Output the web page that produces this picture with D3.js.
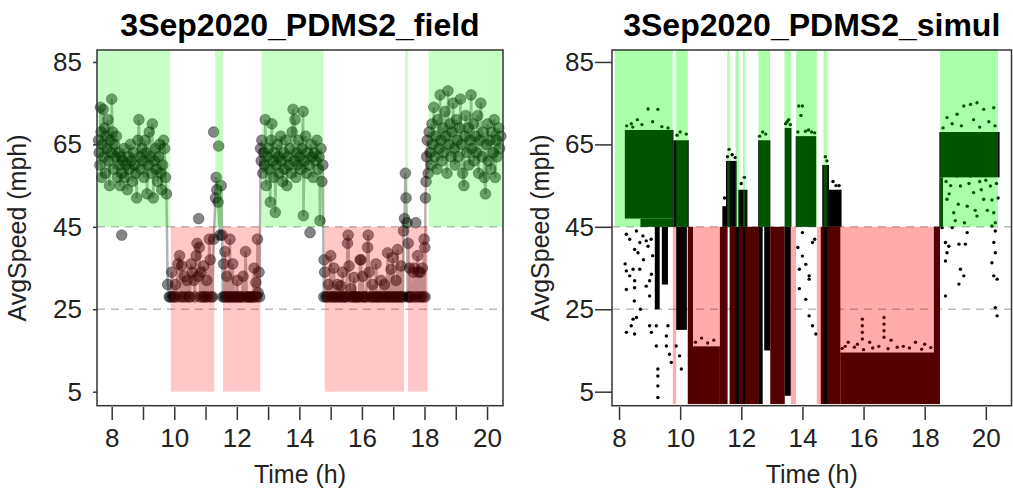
<!DOCTYPE html>
<html>
<head>
<meta charset="utf-8">
<script src="https://cdn.jsdelivr.net/npm/d3@7"></script>
<style>
  body { margin: 0; background: #fff; }
  svg { font-family: "Liberation Sans", Arial, sans-serif; }
</style>
</head>
<body>
<div id="chart"></div>
<script>
// ---- data ----
// field panel: [time (h), avg speed (mph)]
fieldPoints = [
  [7.58,66],[7.60,63],[7.62,60],[7.64,74],[7.66,68],[7.68,57],[7.70,65],[7.73,73.5],[7.75,62],[7.78,69],
  [7.80,58],[7.83,67],[7.85,64],[7.88,71],[7.90,61],[7.93,55],[7.95,66],[7.98,63],[8.00,76],[8.03,68],
  [8.06,59],[8.09,65],[8.12,62],[8.15,67],[8.18,57],[8.21,63],[8.24,60],[8.27,55],[8.30,62],
  [8.33,58],[8.36,61],[8.40,64],[8.43,57],[8.46,60],[8.50,54],[8.53,62],[8.56,59],[8.60,65],[8.63,61],
  [8.66,56],[8.70,63],[8.73,60],[8.77,58],[8.80,52],[8.84,66],[8.87,71],[8.90,62],[8.93,59],[8.97,64],
  [9.00,61],[9.03,57],[9.07,66],[9.10,63],[9.13,53],[9.17,60],[9.20,68],[9.23,62],[9.27,58],[9.30,70],
  [9.33,52],[9.36,61],[9.40,64],[9.43,59],[9.47,56],[9.50,62],[9.53,65],[9.57,58],[9.60,54],[9.63,60],
  [9.66,66],[9.69,64],[9.72,57],[9.75,53],[9.79,31],[9.84,28],
  [9.88,28],[9.92,34],[9.96,28],[10.00,28],[10.04,31],[10.08,28],[10.12,36],[10.17,38],[10.20,28],[10.24,35.5],
  [10.28,28],[10.32,33],[10.36,28],[10.41,32],[10.46,28],[10.50,28],[10.54,36],[10.57,34],[10.62,32],[10.66,28],
  [10.70,38],[10.73,41],[10.76,33],[10.80,40],[10.83,28],[10.87,34],[10.90,28],[10.94,35.5],[10.97,28],
  [11.00,28],[11.04,32],[11.08,28],[11.12,42],[11.15,37],[11.18,28],[11.22,28],[11.26,42],[11.32,52],
  [11.34,57],[11.36,54],[11.40,51],[11.46,43],[11.50,55],[11.53,43],
  [11.55,28],[11.58,36],[11.60,28],[11.62,39],[11.65,28],[11.68,33],[11.71,28],[11.74,28],[11.78,42],[11.80,28],
  [11.83,28],[11.87,36],[11.90,28],[11.93,28],[11.97,28],[12.01,32],[12.04,28],[12.08,28],[12.12,28],[12.16,28],
  [12.20,33],[12.24,28],[12.28,39],[12.32,28],[12.36,28],[12.40,28],[12.44,28],[12.48,28],[12.52,28],[12.55,35],
  [12.58,28],[12.61,31.5],[12.64,28],[12.66,42],[12.68,29],[12.71,34],[12.73,28],[12.76,64],[12.78,61],
  [12.80,66],[12.83,58],[12.86,63],[12.89,60],[12.91,71],[12.94,55],[12.97,62],[13.00,64],[13.03,59],[13.07,51],
  [13.10,66],[13.12,70],[13.15,61],[13.18,57],[13.21,63],[13.23,48.5],[13.26,60],[13.30,65],[13.33,62],[13.36,58],
  [13.40,67],[13.43,61],[13.46,56],[13.50,63],[13.53,59],[13.57,66],[13.60,55],[13.63,62],[13.67,60],[13.70,64],
  [13.73,58],[13.77,68],[13.80,73.5],[13.83,61],[13.86,71],[13.89,57],[13.92,63],[13.95,60],[13.98,66],[14.01,62],
  [14.04,59],[14.08,64],[14.12,73],[14.13,47.7],[14.16,61],[14.20,67],[14.23,58],[14.26,63],[14.30,60],
  [14.37,65],[14.40,62],[14.44,57],[14.48,63],[14.52,61],[14.56,66],[14.60,59],[14.63,62],[14.66,46.5],[14.69,64],
  [14.72,56],[14.75,60],
  [14.78,28],[14.79,37],[14.81,34],[14.85,28],[14.89,28],[14.93,31],[14.97,28],[15.00,38],[15.04,28],[15.08,28],
  [15.10,35],[15.14,28],[15.18,28],[15.22,31],[15.26,28],[15.30,28],[15.32,30.7],[15.36,28],[15.38,34],[15.42,28],
  [15.46,28],[15.50,28],[15.54,41],[15.56,43],[15.59,35.5],[15.62,28],[15.65,30],[15.69,28],[15.73,28],[15.75,32.7],
  [15.79,28],[15.83,28],[15.87,28],[15.91,28],[15.94,37],[15.97,37],[16.00,28],[16.02,33],[16.06,28],[16.10,28],
  [16.14,28],[16.18,40],[16.20,43],[16.23,34],[16.27,28],[16.31,28],[16.34,31],[16.38,28],[16.42,28],[16.45,36],
  [16.49,28],[16.53,28],[16.57,28],[16.61,32],[16.65,28],[16.69,28],[16.72,31],[16.76,28],[16.80,28],[16.82,38.7],
  [16.86,28],[16.90,28],[16.93,34.7],[16.97,28],[16.99,37.5],[17.03,28],[17.06,28],[17.09,32],[17.12,28],[17.14,39.5],
  [17.18,28],[17.22,28],[17.25,35.5],[17.28,28],[17.31,28],[17.33,44],[17.36,47],[17.39,58],[17.41,52],[17.44,46],
  [17.46,28],[17.48,41],[17.50,28],[17.52,35],[17.56,28],[17.60,28],[17.64,34],[17.67,35],[17.70,28],
  [17.75,28],[17.78,38],[17.81,34],[17.84,28],[17.87,34],[17.90,28],[17.93,35],[17.96,28],[17.99,42],[18.01,40],
  [18.02,28],[18.03,52],[18.05,56],[18.07,62],[18.09,66],
  [18.12,58],[18.15,68],[18.18,63],[18.21,60],[18.24,70],[18.27,65],[18.30,74],[18.33,62],[18.36,67],[18.40,59],
  [18.43,71],[18.46,64],[18.50,77],[18.53,66],[18.56,61],[18.59,69],[18.62,63],[18.66,73],[18.69,67],[18.72,58],
  [18.75,78],[18.78,65],[18.82,70],[18.85,62],[18.88,68],[18.92,75],[18.95,64],[18.98,60],[19.02,71],[19.05,66],
  [19.08,62],[19.12,69],[19.15,76],[19.18,65],[19.22,58],[19.26,55],[19.29,67],[19.32,72],[19.36,63],[19.39,69],
  [19.42,60],[19.46,66],[19.49,77],[19.52,64],[19.56,70],[19.59,61],[19.63,67],[19.66,63],[19.70,72],[19.73,58],
  [19.77,66],[19.80,75],[19.84,62],[19.87,68],[19.91,57],[19.95,53],[19.98,65],[20.02,70],[20.05,61],[20.09,66],
  [20.12,59],[20.16,68],[20.19,63],[20.23,71],[20.26,57],[20.30,66],[20.33,62],[20.37,69],[20.40,64],[20.44,67]
]
// isolated field readings that the trace line does not visibly reach
fieldStray = [[8.32,43],[10.78,47],[11.26,68],[11.42,64.6],[14.34,43.6],[17.72,46]]
// time spans of the green (>45) and red (<45) regimes
fieldGreen = [[7.53,9.87],[11.31,11.56],[12.79,14.77],[17.38,17.47],[18.13,20.51]]
fieldRed = [[9.89,11.28],[11.56,12.75],[14.81,17.35],[17.47,18.10]]

// simulation panel: dense point clouds as [t0, t1, low, high]
simBlocks = [
  [8.19,9.78,47,68.5],[8.70,9.78,45,47],[9.78,10.28,45,66],
  [9.17,9.33,25,45],[9.40,9.60,31,45],[9.87,10.22,20,45],
  [10.25,10.42,2,45],[10.42,11.30,2,16],[11.30,11.55,2,45],[11.38,11.50,45,50],
  [11.50,11.85,45,61],[11.90,12.20,45,54],[11.62,12.55,2,45],
  [12.55,12.95,45,66],[12.55,12.70,2,45],[12.75,12.95,15,45],[12.95,13.42,2,45],
  [13.42,13.64,45,69],[13.42,13.62,4,45],[13.78,14.45,45,67],
  [14.60,15.24,2,45],[14.65,14.87,45,60],[14.87,15.28,45,54],
  [15.24,18.35,2,14.5],[18.30,18.50,2,45],[18.48,20.45,57,68],[18.48,18.60,45,57]
]
// scattered single points outside the clouds
simPoints = [
  [8.24,43.2],[8.35,42.0],[8.57,44.0],[8.68,41.2],[8.62,38.7],[8.51,39.5],[8.78,42.8],[8.95,40.3],[8.89,41.6],[8.46,34.7],
  [8.24,34.3],[8.35,33.1],[8.51,31.9],[8.68,34.7],[9.06,33.5],[9.00,31.9],[9.00,28.2],[8.89,30.6],[8.24,29.8],[8.51,30.2],
  [8.57,23.0],[8.46,22.6],[8.40,21.0],[8.24,19.4],[8.51,19.0],[9.00,21.0],[9.06,19.4],[9.22,21.0],[9.22,16.1],[9.27,10.5],
  [9.27,8.8],[9.27,6.4],[9.27,3.6],[9.55,18.5],[9.55,16.1],[9.60,21.0],[9.65,14.1],[9.71,12.1],[9.87,16.1],[9.98,13.7],
  [10.04,10.5],[8.50,27],[8.70,25],[8.20,36],[8.80,37],[9.10,38],[9.05,42],
  [8.60,71],[8.95,73.6],[9.27,73.5],[8.40,70],[9.10,70.5],[10.00,68],[10.20,67.5],[11.45,52],[11.60,63.8],[11.70,62.5],
  [12.00,55.5],[12.10,57],[12.70,68],[12.80,67.5],[13.50,70.5],[13.55,71],[13.88,74.3],[14.00,74.3],[13.95,72],[14.20,68.5],
  [14.30,68],[14.75,62],[14.80,61],[15.00,56],[15.20,55],
  [8.25,69.5],[8.45,69.2],[8.75,69.8],[9.40,69.3],[9.60,69],[9.90,67.2],[11.55,62],[11.80,61.8],[12.60,67],[13.45,70],
  [13.60,69.8],[13.85,68],[14.10,68.2],[14.40,67.8],[15.10,55],
  [13.90,34.7],[14.00,43.6],[14.22,33.1],[14.33,41.2],[14.22,32.3],[14.11,35.9],[14.11,27.4],[14.22,23.4],[14.33,21],[14.44,19],
  [14.00,37.9],[13.90,30],[13.85,40],[14.40,42],
  [15.96,22.6],[15.96,21],[15.96,19.4],[15.96,17.8],[16.67,23],[16.67,21.4],[16.67,19.8],[16.67,18.2],[15.50,17],[15.80,16.5],
  [16.20,17],[16.90,17.5],[17.30,16],[17.70,17],[18.00,16.5],[15.40,16],[16.50,16],[17.10,15.8],
  [10.50,17],[10.70,18],[10.90,16.8],[11.10,17.5],[15.30,15.5],[15.70,15.8],[16.00,15.2],[16.30,15.6],[16.80,15.4],[17.50,15.6],
  [17.90,15.3],[18.20,15.7],
  [18.57,44.8],[18.90,44.8],[19.39,43.6],[18.68,41.2],[18.79,40.3],[19.12,40.8],[19.33,40.8],[18.73,38.7],[18.68,36.7],[19.17,34.7],
  [19.28,33.1],[19.12,31.1],[18.68,28.2],[20.20,45.2],[20.31,44.0],[20.26,41.2],[20.31,38.7],[20.20,36.3],[20.26,33.1],[20.37,32.3],
  [20.31,25.4],[20.37,23.4],
  [19.28,74.3],[19.50,74.7],[19.71,75.1],[19.93,73.5],[20.26,73.9],[19.06,72.3],[18.73,71.5],[18.90,70],[19.60,71],[20.10,70.5],
  [18.60,69],[19.20,69.5],[19.80,69.2],[20.30,69.5],
  [18.73,51.7],[18.95,48.4],[19.17,54.9],[19.39,50.0],[19.60,53.3],[19.71,47.6],[19.93,51.7],[20.15,54.9],[20.26,48.4],[20.31,46.0],
  [19.50,57.3],[19.06,57.3],[18.85,55],[19.80,56],[20.40,52],[19.00,46.5],[19.30,46],[20.05,49],
  [18.70,56],[18.80,53],[19.10,50.5],[19.45,55.5],[19.65,49],[19.85,54],[20.00,56.3],[20.20,51.5],[20.35,55.5]
]
simGreen = [[7.86,9.76],[9.87,10.25],[11.54,11.62],[11.81,11.92],[12.05,12.12],[12.56,12.94],
  [13.41,13.62],[13.79,14.47],[14.69,14.80],[18.50,20.40]]
simRed = [[9.76,9.87],[10.25,11.54],[11.62,11.81],[11.92,12.05],[12.12,12.56],[12.94,13.41],
  [13.62,13.79],[14.47,14.69],[14.80,18.50]]

yTicks = [5, 25, 45, 65, 85]
refLines = [45, 25]

// ---- layout ----
svg = d3.select("#chart").append("svg")
  .attr("width", 1013).attr("height", 494)

function panel(opt) {
  x = d3.scaleLinear().domain(opt.xDomain).range([opt.left, opt.right])
  y = d3.scaleLinear().domain([1.6, 87.9]).range([405.7, 50])
  g = svg.append("g")

  // dashed reference lines
  g.selectAll(".ref").data(refLines).join("line")
    .attr("x1", opt.left).attr("x2", opt.right)
    .attr("y1", d => y(d)).attr("y2", d => y(d))
    .attr("stroke", "#bdbdbd").attr("stroke-width", 1.5)
    .attr("stroke-dasharray", "8,6")

  opt.marks(g, x, y)

  // regime shading drawn over the points
  g.selectAll(".green").data(opt.green).join("rect")
    .attr("x", d => x(d[0])).attr("width", d => x(d[1]) - x(d[0]))
    .attr("y", 50).attr("height", y(45) - 50)
    .attr("fill", "#00ff00").attr("fill-opacity", opt.alpha)
  g.selectAll(".red").data(opt.red).join("rect")
    .attr("x", d => x(d[0])).attr("width", d => x(d[1]) - x(d[0]))
    .attr("y", y(45)).attr("height", y(opt.redLow) - y(45))
    .attr("fill", "#ff0000").attr("fill-opacity", opt.alpha)

  // box
  g.append("rect")
    .attr("x", opt.left).attr("y", 50)
    .attr("width", opt.right - opt.left).attr("height", 405.7 - 50)
    .attr("fill", "none").attr("stroke", "#333").attr("stroke-width", 1.5)

  // axes
  xa = g.append("g").attr("transform", "translate(0,407)")
    .call(d3.axisBottom(x).tickValues(opt.xTicks).tickSize(13).tickPadding(9)
      .tickFormat(d => d % 2 === 0 ? d : ""))
  xa.select(".domain").remove()
  ya = g.append("g").attr("transform", `translate(${opt.left},0)`)
    .call(d3.axisLeft(y).tickValues(yTicks).tickSize(opt.yTick).tickPadding(opt.yPad))
  ya.select(".domain").remove()
  g.selectAll(".tick line").attr("stroke", "#333").attr("stroke-width", 1.5)
  g.selectAll(".tick text").style("font-size", "26px").attr("fill", "#222")
    .style("font-family", "Liberation Sans, Arial, sans-serif")

  // titles
  mid = (opt.left + opt.right) / 2
  g.append("text").attr("x", mid).attr("y", 36)
    .attr("text-anchor", "middle").style("font-weight", "bold").style("font-size", "32px")
    .text(opt.title)
  g.append("text").attr("x", mid).attr("y", 483)
    .attr("text-anchor", "middle").style("font-size", "25px").attr("fill", "#222")
    .text("Time (h)")
  g.append("text")
    .attr("transform", `translate(${opt.ylabX},228) rotate(-90)`)
    .attr("text-anchor", "middle").style("font-size", "25px").attr("fill", "#222")
    .text("AvgSpeed (mph)")
}

panel({
  left: 97, right: 503, xDomain: [7.53, 20.51], xTicks: d3.range(8, 21),
  yTick: 4, yPad: 11, ylabX: 26, alpha: 0.22, redLow: 5,
  green: fieldGreen, red: fieldRed, title: "3Sep2020_PDMS2_field",
  marks: function(g, x, y) {
    g.append("path").datum(fieldPoints)
      .attr("d", d3.line().x(d => x(d[0])).y(d => y(d[1])))
      .attr("fill", "none").attr("stroke", "#000").attr("stroke-opacity", 0.3)
      .attr("stroke-width", 2.5)
    g.selectAll(".pt").data(fieldPoints.concat(fieldStray)).join("circle")
      .attr("cx", d => x(d[0])).attr("cy", d => y(d[1])).attr("r", 5.4)
      .attr("fill", "#000").attr("fill-opacity", 0.48)
      .attr("stroke", "#000").attr("stroke-opacity", 0.3)
  }
})

panel({
  left: 612, right: 1011.5, xDomain: [7.77, 20.84], xTicks: d3.range(8, 21, 2),
  yTick: 17, yPad: 1, ylabX: 549, alpha: 0.33, redLow: 2,
  green: simGreen, red: simRed, title: "3Sep2020_PDMS2_simul",
  marks: function(g, x, y) {
    g.selectAll(".blk").data(simBlocks).join("rect")
      .attr("x", d => x(d[0])).attr("width", d => x(d[1]) - x(d[0]))
      .attr("y", d => y(d[3])).attr("height", d => y(d[2]) - y(d[3]))
      .attr("fill", "#000")
    g.selectAll(".dot").data(simPoints).join("circle")
      .attr("cx", d => x(d[0])).attr("cy", d => y(d[1])).attr("r", 1.7)
      .attr("fill", "#000")
  }
})
</script>
</body>
</html>
